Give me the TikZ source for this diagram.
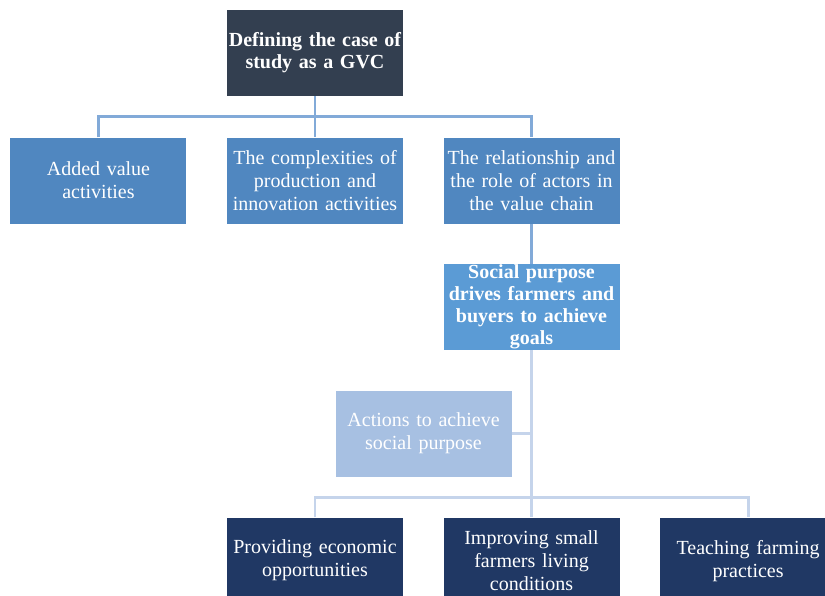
\documentclass[tikz,border=0pt]{standalone}
\usepackage{fontspec}
\setmainfont{Liberation Serif}
\usetikzlibrary{positioning, calc}
\definecolor{topnavy}{RGB}{51,63,80}
\definecolor{midblue}{RGB}{80,135,192}
\definecolor{socblue}{RGB}{91,155,213}
\definecolor{paleblue}{RGB}{167,192,226}
\definecolor{darknavy}{RGB}{32,56,100}
\definecolor{linkblue}{RGB}{130,170,216}
\definecolor{linkpale}{RGB}{197,212,235}
\tikzset{
  box/.style={
    rectangle, fill=#1, text=white,
    text width=132pt, align=center,
    minimum width=132pt, minimum height=64.5pt,
    inner xsep=0pt, inner ysep=0pt, font=\fontsize{15}{17.25}\selectfont
  },
  bbox/.style={box=#1, font=\fontsize{15}{16.5}\selectfont\bfseries},
  link/.style={line width=2.2pt, draw=linkblue},
  llink/.style={line width=2.2pt, draw=linkpale}
}
\begin{document}
\begin{tikzpicture}[x=0.75pt, y=-0.75pt, node distance=30.75pt and 30pt]
  \useasboundingbox (0,0) rectangle (825,596);
  \clip (0,0) rectangle (825,596);

  \node[bbox=topnavy] (gvc) at (315,53) {Defining the case of\\study as a GVC};
  \node[box=midblue, below=of gvc]      (complex) {The complexities of\\production and\\innovation activities};
  \node[box=midblue, left=of complex]   (added)   {Added value\\activities};
  \node[box=midblue, right=of complex]  (actors)  {The relationship and\\the role of actors in\\the value chain};
  \node[bbox=socblue, below=30pt of actors] (social) {Social purpose\\drives farmers and\\buyers to achieve\\goals};
  \node[box=paleblue, below=30pt of social, xshift=-81pt] (actions) {Actions to achieve\\social purpose};
  \node[box=darknavy, below=125.25pt of social] (improve) {Improving small\\farmers living\\conditions};
  \node[box=darknavy, left=of improve]  (econ)  {Providing economic\\opportunities};
  \node[box=darknavy, right=of improve] (teach) {Teaching farming\\practices};

  % upper tree
  \coordinate (hub1) at ($(gvc.south)!0.5!(complex.north)$);
  \draw[link] (gvc.south) -- (complex.north);
  \draw[link] (added.north) |- (hub1) -| (actors.north);
  \draw[link] (actors) -- (social);

  % lower tree
  \coordinate (hub2) at ([yshift=15pt]improve.north);
  \draw[llink] (social.south) -- (improve.north);
  \draw[llink] (econ.north) |- (hub2) -| (teach.north);
  \draw[llink] (actions.east) -- (actions.east -| social.south);
\end{tikzpicture}
\end{document}
